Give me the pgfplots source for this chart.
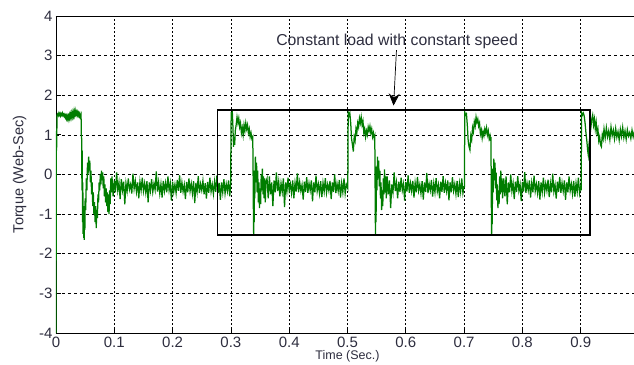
\documentclass[border=0pt]{standalone}
\usepackage{fontspec}
\setmainfont{Liberation Sans}
\usepackage{pgfplots}
\pgfplotsset{compat=1.18}
\usetikzlibrary{arrows.meta}
\definecolor{sig}{RGB}{0,125,0}
\definecolor{txt}{RGB}{45,45,62}
\begin{document}
\begin{tikzpicture}
\begin{axis}[
  scale only axis, width=583pt, height=317pt,
  xmin=0, xmax=1, ymin=-4, ymax=4,
  xtick={0,0.1,0.2,0.3,0.4,0.5,0.6,0.7,0.8,0.9},
  ytick={-4,-3,-2,-1,0,1,2,3,4},
  grid=major,
  x grid style={black, dash pattern=on 2pt off 2pt, line width=0.7pt},
  y grid style={black, dash pattern=on 3pt off 3pt, line width=0.7pt},
  tick align=inside, tick pos=left, major tick length=5pt,
  axis line style={black, line width=0.9pt},
  tick style={black, line width=0.8pt},
  /pgf/number format/assume math mode=true,
  ticklabel style={font=\fontsize{15}{17}\selectfont, text=txt},
  xlabel={Time (Sec.)}, ylabel={Torque (Web-Sec)},
  xlabel style={font=\fontsize{12.5}{14}\selectfont, text=txt, at={(axis description cs:0.5,0)}, anchor=north, yshift=-17pt, inner sep=0pt},
  ylabel style={font=\fontsize{14.5}{16}\selectfont, text=txt},
  ylabel shift=6pt,
  clip=true
]
\coordinate (O) at (axis cs:0,-4);
\addplot[sig, line width=1.25pt] coordinates {
(0.0000,-4.00) (0.0006,1.10) (0.0010,0.60) (0.0014,1.05) (0.0018,1.50)
(0.0030,1.53) (0.0040,1.49) (0.0050,1.55) (0.0060,1.50) (0.0070,1.54) (0.0080,1.48) (0.0090,1.53) (0.0100,1.50)
(0.0110,1.55) (0.0120,1.49) (0.0130,1.52) (0.0140,1.47) (0.0150,1.51) (0.0160,1.44) (0.0170,1.49) (0.0180,1.41)
(0.0190,1.48) (0.0200,1.40) (0.0210,1.47) (0.0220,1.39) (0.0230,1.50) (0.0240,1.42) (0.0250,1.52) (0.0260,1.44)
(0.0270,1.55) (0.0280,1.46) (0.0290,1.57) (0.0300,1.48) (0.0310,1.60) (0.0320,1.50) (0.0330,1.61) (0.0340,1.52)
(0.0350,1.58) (0.0360,1.50) (0.0370,1.57) (0.0380,1.49) (0.0390,1.55) (0.0400,1.47) (0.0410,1.53) (0.0420,1.45)
(0.0430,1.50) (0.0435,1.00) (0.0440,0.90) (0.0445,-0.40) (0.0450,0.60) (0.0455,-1.20) (0.0460,-0.20) (0.0465,-1.50)
(0.0470,-0.80) (0.0475,-1.60) (0.0480,-1.00) (0.0485,-1.65) (0.0490,-0.90) (0.0495,-1.40) (0.0500,-0.60) (0.0510,-0.90)
(0.0520,-0.10) (0.0530,-0.40) (0.0540,0.30) (0.0550,0.00) (0.0560,0.45) (0.0570,0.10) (0.0580,0.35) (0.0590,-0.20)
(0.0600,0.10) (0.0610,-0.50) (0.0620,-0.20) (0.0630,-0.80) (0.0640,-0.45) (0.0650,-1.00) (0.0660,-0.70) (0.0670,-1.20)
(0.0680,-0.80) (0.0690,-1.35) (0.0700,-0.90) (0.0710,-1.10) (0.0720,-0.50) (0.0730,-0.70) (0.0740,-0.20) (0.0750,-0.40)
(0.0760,0.00) (0.0770,-0.25) (0.0780,0.10) (0.0790,-0.15) (0.0800,0.05) (0.0810,-0.35) (0.0820,-0.05) (0.0830,-0.55)
(0.0840,-0.25) (0.0850,-0.70) (0.0860,-0.35) (0.0870,-0.80) (0.0880,-0.45) (0.0890,-0.95) (0.0900,-0.50) (0.0910,-1.00)
(0.0920,-0.40) (0.0930,-0.75) (0.0940,-0.10) (0.0950,-0.45)
(0.096,-0.05) (0.098,-0.55) (0.100,-0.15) (0.102,-0.45) (0.104,0.05) (0.106,-0.40) (0.108,-0.20) (0.110,-0.62)
(0.112,-0.12) (0.114,-0.40) (0.116,-0.18) (0.118,-0.75) (0.120,-0.22) (0.122,-0.42) (0.124,-0.10) (0.126,-0.38)
(0.128,-0.25) (0.130,-0.48) (0.132,0.02) (0.134,-0.36) (0.136,-0.16) (0.138,-0.44) (0.140,-0.20) (0.142,-0.60)
(0.144,-0.18) (0.146,-0.40) (0.148,-0.08) (0.150,-0.42) (0.152,-0.22) (0.154,-0.46) (0.156,-0.17) (0.158,-0.70)
(0.160,-0.20) (0.162,-0.41) (0.164,-0.12) (0.166,-0.44) (0.168,-0.23) (0.170,-0.39) (0.172,0.08) (0.174,-0.43)
(0.176,-0.19) (0.178,-0.48) (0.180,-0.24) (0.182,-0.58) (0.184,-0.16) (0.186,-0.42) (0.188,-0.21) (0.190,-0.45)
(0.192,-0.05) (0.194,-0.40) (0.196,-0.22) (0.198,-0.66) (0.200,-0.18) (0.202,-0.44) (0.204,-0.25) (0.206,-0.47)
(0.208,-0.14) (0.210,-0.41) (0.212,-0.02) (0.214,-0.46) (0.216,-0.20) (0.218,-0.43) (0.220,-0.26) (0.222,-0.62)
(0.224,-0.19) (0.226,-0.45) (0.228,-0.10) (0.230,-0.42) (0.232,-0.23) (0.234,-0.48) (0.236,-0.17) (0.238,-0.72)
(0.240,-0.21) (0.242,-0.44) (0.244,-0.04) (0.246,-0.47) (0.248,-0.24) (0.250,-0.40) (0.252,-0.16) (0.254,-0.50)
(0.256,-0.22) (0.258,-0.61) (0.260,-0.19) (0.262,-0.46) (0.264,-0.08) (0.266,-0.43) (0.268,-0.25) (0.270,-0.49)
(0.272,-0.18) (0.274,-0.44) (0.276,-0.02) (0.278,-0.47) (0.280,-0.21) (0.282,-0.64) (0.284,-0.20) (0.286,-0.45)
(0.288,-0.12) (0.290,-0.48) (0.292,-0.24) (0.294,-0.42) (0.296,-0.15) (0.298,-0.55)
(0.2995,-0.30) (0.3005,1.58) (0.3015,1.50) (0.3025,1.55) (0.3035,1.20) (0.3045,0.70) (0.3055,0.95) (0.3065,0.75)
(0.3075,1.10) (0.3090,1.25) (0.3105,1.45) (0.3120,1.30) (0.3135,1.42) (0.3150,1.20) (0.3165,1.30) (0.3180,1.05)
(0.3195,1.18) (0.3210,1.00) (0.3225,1.25) (0.3240,1.10) (0.3255,1.30) (0.3270,1.15) (0.3285,1.25) (0.3300,1.05)
(0.3315,1.15) (0.3330,0.95) (0.3345,1.05) (0.3360,0.90) (0.3375,0.95) (0.3380,0.20) (0.3385,-0.80) (0.3390,-1.50)
(0.3395,-0.60) (0.3400,-1.20) (0.3405,0.10) (0.3410,-0.60) (0.3420,0.45) (0.3430,-0.20) (0.3440,0.30) (0.3450,-0.45)
(0.3460,0.10) (0.3470,-0.70) (0.3480,-0.20) (0.3490,-0.85) (0.3500,-0.35) (0.3510,-0.75) (0.3520,0.00) (0.3530,-0.40)
(0.3540,0.15) (0.3550,-0.50) (0.3560,-0.05) (0.3570,-0.60) (0.3580,-0.10) (0.3590,-0.70) (0.3600,-0.20)
(0.362,-0.10) (0.364,-0.60) (0.366,-0.05) (0.368,-0.50) (0.370,-0.20) (0.372,-0.80) (0.374,-0.15) (0.376,-0.45)
(0.378,0.05) (0.380,-0.42) (0.382,-0.18) (0.384,-0.55) (0.386,-0.22) (0.388,-0.44) (0.390,-0.10) (0.392,-0.82)
(0.394,-0.20) (0.396,-0.43) (0.398,-0.08) (0.400,-0.40) (0.402,-0.24) (0.404,-0.47) (0.406,-0.15) (0.408,-0.60)
(0.410,-0.21) (0.412,-0.43) (0.414,0.03) (0.416,-0.45) (0.418,-0.19) (0.420,-0.41) (0.422,-0.26) (0.424,-0.63)
(0.426,-0.18) (0.428,-0.44) (0.430,-0.07) (0.432,-0.46) (0.434,-0.22) (0.436,-0.40) (0.438,-0.15) (0.440,-0.68)
(0.442,-0.20) (0.444,-0.45) (0.446,-0.03) (0.448,-0.42) (0.450,-0.24) (0.452,-0.48) (0.454,-0.17) (0.456,-0.57)
(0.458,-0.21) (0.460,-0.43) (0.462,-0.09) (0.464,-0.46) (0.466,-0.25) (0.468,-0.41) (0.470,-0.16) (0.472,-0.62)
(0.474,-0.20) (0.476,-0.44) (0.478,0.00) (0.480,-0.47) (0.482,-0.23) (0.484,-0.42) (0.486,-0.14) (0.488,-0.58)
(0.490,-0.22) (0.492,-0.45) (0.494,-0.10) (0.496,-0.48) (0.498,-0.25)
(0.5005,-0.35) (0.5012,1.59) (0.5025,1.48) (0.5040,1.55) (0.5055,1.30) (0.5070,0.90) (0.5085,0.75) (0.5100,0.58)
(0.5115,0.95) (0.5130,0.85) (0.5145,1.15) (0.5160,1.05) (0.5175,1.30) (0.5190,1.20) (0.5205,1.42) (0.5220,1.30)
(0.5235,1.45) (0.5250,1.25) (0.5265,1.35) (0.5280,1.05) (0.5295,1.15) (0.5310,0.95) (0.5325,1.10) (0.5340,1.00)
(0.5355,1.20) (0.5370,1.10) (0.5385,1.22) (0.5400,1.05) (0.5415,1.15) (0.5430,0.95) (0.5445,1.05) (0.5460,0.90)
(0.5468,0.95) (0.5472,0.10) (0.5476,-0.90) (0.5480,-1.53) (0.5485,-0.50) (0.5490,-1.20) (0.5495,0.20) (0.5505,-0.40)
(0.5515,0.45) (0.5525,-0.10) (0.5535,0.35) (0.5545,-0.30) (0.5555,0.10) (0.5565,-0.60) (0.5575,-0.20) (0.5585,-0.90)
(0.5595,-0.40) (0.5605,-0.80) (0.5615,-0.10) (0.5625,-0.50) (0.5635,0.13) (0.5645,-0.45) (0.5655,-0.05) (0.5665,-0.60)
(0.568,-0.05) (0.570,-0.50) (0.572,-0.15) (0.574,-0.85) (0.576,-0.25) (0.578,-0.45) (0.580,0.05) (0.582,-0.42)
(0.584,-0.20) (0.586,-0.60) (0.588,-0.18) (0.590,-0.44) (0.592,-0.08) (0.594,-0.40) (0.596,-0.24) (0.598,-0.66)
(0.600,-0.19) (0.602,-0.43) (0.604,-0.02) (0.606,-0.46) (0.608,-0.22) (0.610,-0.42) (0.612,-0.16) (0.614,-0.58)
(0.616,-0.21) (0.618,-0.45) (0.620,-0.06) (0.622,-0.41) (0.624,-0.25) (0.626,-0.48) (0.628,-0.17) (0.630,-0.63)
(0.632,-0.20) (0.634,-0.44) (0.636,0.04) (0.638,-0.47) (0.640,-0.23) (0.642,-0.40) (0.644,-0.14) (0.646,-0.56)
(0.648,-0.22) (0.650,-0.45) (0.652,-0.09) (0.654,-0.43) (0.656,-0.26) (0.658,-0.60) (0.660,-0.18) (0.662,-0.44)
(0.664,-0.04) (0.666,-0.46) (0.668,-0.21) (0.670,-0.42) (0.672,-0.15) (0.674,-0.65) (0.676,-0.20) (0.678,-0.45)
(0.680,-0.07) (0.682,-0.41) (0.684,-0.24) (0.686,-0.49) (0.688,-0.16) (0.690,-0.57) (0.692,-0.22) (0.694,-0.44)
(0.696,-0.10) (0.698,-0.47) (0.700,-0.30)
(0.7005,-0.30) (0.7012,1.57) (0.7025,1.50) (0.7040,1.53) (0.7055,1.25) (0.7070,0.85) (0.7085,0.70) (0.7100,0.62)
(0.7115,0.98) (0.7130,0.88) (0.7145,1.18) (0.7160,1.08) (0.7175,1.33) (0.7190,1.22) (0.7205,1.45) (0.7220,1.32)
(0.7235,1.40) (0.7250,1.22) (0.7265,1.30) (0.7280,1.02) (0.7295,1.12) (0.7310,0.92) (0.7325,1.08) (0.7340,0.98)
(0.7355,1.15) (0.7370,1.05) (0.7385,1.18) (0.7400,1.00) (0.7415,1.10) (0.7430,0.90) (0.7445,0.98) (0.7455,0.85)
(0.7460,0.95) (0.7464,0.10) (0.7468,-0.90) (0.7472,-1.50) (0.7477,-0.50) (0.7482,-1.25) (0.7490,0.15) (0.7500,-0.45)
(0.7510,0.40) (0.7520,-0.15) (0.7530,0.30) (0.7540,-0.35) (0.7550,0.05) (0.7560,-0.65) (0.7570,-0.25) (0.7580,-0.85)
(0.7590,-0.40) (0.7600,-0.75) (0.7610,-0.05) (0.7620,-0.50) (0.7630,0.10) (0.7640,-0.45) (0.7650,-0.10) (0.7660,-0.60)
(0.768,-0.10) (0.770,-0.55) (0.772,-0.05) (0.774,-0.75) (0.776,-0.20) (0.778,-0.45) (0.780,0.00) (0.782,-0.42)
(0.784,-0.22) (0.786,-0.62) (0.788,-0.18) (0.790,-0.44) (0.792,-0.04) (0.794,-0.41) (0.796,-0.25) (0.798,-0.67)
(0.800,-0.19) (0.802,-0.43) (0.804,0.06) (0.806,-0.46) (0.808,-0.22) (0.810,-0.40) (0.812,-0.15) (0.814,-0.58)
(0.816,-0.21) (0.818,-0.45) (0.820,-0.03) (0.822,-0.42) (0.824,-0.24) (0.826,-0.47) (0.828,-0.17) (0.830,-0.63)
(0.832,-0.20) (0.834,-0.44) (0.836,-0.08) (0.838,-0.46) (0.840,-0.23) (0.842,-0.41) (0.844,-0.13) (0.846,-0.57)
(0.848,-0.22) (0.850,-0.45) (0.852,0.02) (0.854,-0.43) (0.856,-0.26) (0.858,-0.61) (0.860,-0.18) (0.862,-0.44)
(0.864,-0.06) (0.866,-0.46) (0.868,-0.21) (0.870,-0.42) (0.872,-0.15) (0.874,-0.64) (0.876,-0.20) (0.878,-0.45)
(0.880,-0.05) (0.882,-0.41) (0.884,-0.24) (0.886,-0.49) (0.888,-0.16) (0.890,-0.56) (0.892,-0.22) (0.894,-0.44)
(0.896,-0.08) (0.898,-0.47) (0.900,-0.30)
(0.9008,-0.40) (0.9015,1.56) (0.9030,1.50) (0.9045,1.55) (0.9060,1.48) (0.9075,1.30) (0.9090,1.05) (0.9105,0.85)
(0.9120,0.60) (0.9130,0.49) (0.9145,0.80) (0.9160,1.00) (0.9175,1.20) (0.9190,1.40) (0.9205,1.50) (0.9220,1.25)
(0.9235,1.40) (0.9250,1.15) (0.9265,1.32) (0.9280,1.05) (0.9295,1.15) (0.9310,0.85) (0.9325,0.95) (0.9340,0.75)
(0.9355,0.70) (0.9370,1.00) (0.9385,0.90) (0.9400,1.15)
(0.942,0.92) (0.944,1.18) (0.946,0.95) (0.948,1.10) (0.950,0.88) (0.952,1.20) (0.954,0.98) (0.956,1.12)
(0.958,0.90) (0.960,1.16) (0.962,0.94) (0.964,1.08) (0.966,0.87) (0.968,1.14) (0.970,0.96) (0.972,1.19)
(0.974,0.93) (0.976,1.10) (0.978,0.89) (0.980,1.13) (0.982,0.97) (0.984,1.06) (0.986,0.91) (0.988,1.12)
(0.990,0.95) (0.992,1.08) (0.994,0.99) (0.996,1.10) (0.998,0.96)
};
\draw[black, line width=1.6pt] (axis cs:0.277,-1.53) rectangle (axis cs:0.916,1.63);
\node[text=txt, font=\fontsize{15.8}{18}\selectfont, inner sep=1pt] at (axis cs:0.585,3.35) {Constant load with constant speed};
\draw[black, line width=0.7pt, -{Stealth[length=12pt,width=11pt,inset=4pt]}] (axis cs:0.584,3.14) -- (axis cs:0.579,1.74);
\end{axis}
\pgfresetboundingbox
\path ([shift={(-56pt,-31pt)}]O) rectangle ([shift={(578pt,333pt)}]O);
\end{tikzpicture}
\end{document}
